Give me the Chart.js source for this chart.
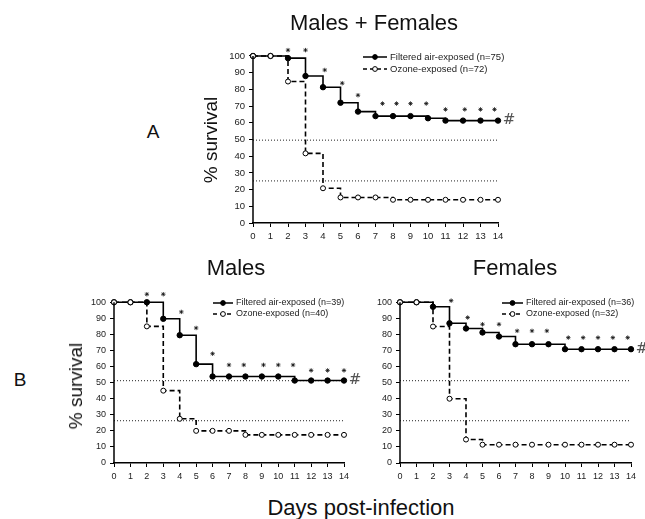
<!DOCTYPE html>
<html>
<head>
<meta charset="utf-8">
<script src="https://cdn.jsdelivr.net/npm/chart.js@4.4.1/dist/chart.umd.min.js"></script>
<style>
  body { margin: 0; background: #fff; font-family: "Liberation Sans", Arial, sans-serif; }
  #fig { position: relative; width: 645px; height: 519px; overflow: hidden; background: #fff; }
  #fig canvas { position: absolute; }
  .lbl { position: absolute; transform: translate(-50%, -50%); white-space: nowrap; color: #111; }
  .rot { transform: translate(-50%, -50%) rotate(-90deg); }
</style>
</head>
<body>
<div id="fig">
  <canvas id="chartAll" width="330" height="215" style="left:200px;top:30px"></canvas>
  <canvas id="chartMales" width="320" height="215" style="left:60px;top:280px"></canvas>
  <canvas id="chartFemales" width="295" height="215" style="left:350px;top:280px"></canvas>

  <div class="lbl" style="left:374px;top:23px;font-size:22px">Males + Females</div>
  <div class="lbl" style="left:153px;top:132px;font-size:19px">A</div>
  <div class="lbl rot" style="left:211px;top:140px;font-size:19px">% survival</div>

  <div class="lbl" style="left:236px;top:268px;font-size:22px">Males</div>
  <div class="lbl" style="left:515px;top:268px;font-size:22px">Females</div>
  <div class="lbl" style="left:20px;top:380px;font-size:19px">B</div>
  <div class="lbl rot" style="left:76px;top:386px;font-size:19px">% survival</div>
  <div class="lbl" style="left:361px;top:508px;font-size:22px">Days post-infection</div>
</div>

<script>
/* ---------- DATA ---------- */
const days = [0, 1, 2, 3, 4, 5, 6, 7, 8, 9, 10, 11, 12, 13, 14];

// Males + Females
const allFiltered = [100, 100, 98.7, 88, 81.3, 72, 66.7, 64, 64, 64, 62.7, 61.3, 61.3, 61.3, 61.3];
const allOzone = [100, 100, 84.7, 41.7, 20.8, 15.3, 15.3, 15.3, 13.9, 13.9, 13.9, 13.9, 13.9, 13.9, 13.9];
const allStarDays = [2, 3, 4.1, 5.1, 6, 7.4, 8.2, 9, 9.9, 11, 12.1, 13, 13.8];
const allStarY = [103.5, 103.5, 91.6, 83.7, 76.5, 71.5, 71.5, 71.5, 71.5, 68, 68, 68, 68];
const allRefLines = [49.6, 25.2];
const allLegend = ["Filtered air-exposed (n=75)", "Ozone-exposed (n=72)"];

// Males
const maleFiltered = [100, 100, 100, 89.7, 79.5, 61.5, 53.8, 53.8, 53.8, 53.8, 53.8, 51.3, 51.3, 51.3, 51.3];
const maleOzone = [100, 100, 85, 45, 27.5, 20, 20, 20, 17.5, 17.5, 17.5, 17.5, 17.5, 17.5, 17.5];
const maleStarDays = [2, 3, 4.1, 5, 6, 7, 7.9, 9.1, 10, 10.9, 12, 13, 14];
const maleStarY = [105, 105, 94, 84, 68, 61, 61, 61, 61, 61, 57.6, 57.6, 57.6];
const maleRefLines = [51.2, 26.3];
const maleLegend = ["Filtered air-exposed (n=39)", "Ozone-exposed (n=40)"];

// Females
const femaleFiltered = [100, 100, 97.2, 86.9, 83.7, 81.2, 78.7, 73.9, 73.9, 73.9, 70.8, 70.8, 70.8, 70.8, 70.8];
const femaleOzone = [100, 100, 84.9, 40, 14.6, 11.4, 11.4, 11.4, 11.4, 11.4, 11.4, 11.4, 11.4, 11.4, 11.4];
const femaleStarDays = [3.1, 4.1, 5, 6, 7.1, 8, 8.9, 10.2, 11.1, 12, 12.9, 13.8];
const femaleStarY = [101, 90.5, 86.3, 86.3, 82.2, 82.2, 82.2, 78, 78, 78, 78, 78];
const femaleRefLines = [51.2, 26.3];
const femaleLegend = ["Filtered air-exposed (n=36)", "Ozone-exposed (n=32)"];

const FONT = "'Liberation Sans', Arial, sans-serif";

function pairs(xs, ys) {
  return xs.map((x, i) => ({ x, y: ys[i] }));
}

/* ---------- EXTRAS: y axis line, legend, # ---------- */
const extras = {
  id: "extras",
  afterDraw(chart, args, o) {
    const { ctx } = chart;
    const x = chart.scales.x;
    const y = chart.scales.y;
    ctx.save();

    // y axis line, only up to 100
    ctx.strokeStyle = "#000";
    ctx.lineWidth = 1.5;
    ctx.beginPath();
    ctx.moveTo(x.getPixelForValue(0), y.getPixelForValue(0) + 0.75);
    ctx.lineTo(x.getPixelForValue(0), y.getPixelForValue(100));
    ctx.stroke();

    // legend
    o.items.forEach((it, i) => {
      const ly = o.y + i * o.gap;
      ctx.strokeStyle = "#000";
      ctx.lineWidth = 1.5;
      ctx.setLineDash(it.dash);
      ctx.beginPath();
      ctx.moveTo(o.x, ly);
      ctx.lineTo(o.x + o.len, ly);
      ctx.stroke();
      ctx.setLineDash([]);
      ctx.beginPath();
      ctx.arc(o.x + o.len / 2, ly, 2.4, 0, Math.PI * 2);
      ctx.fillStyle = it.fill;
      ctx.fill();
      ctx.lineWidth = 1;
      ctx.stroke();
      ctx.fillStyle = "#222";
      ctx.font = o.fontSize + "px " + FONT;
      ctx.textBaseline = "middle";
      ctx.textAlign = "left";
      ctx.fillText(it.text, o.x + o.len + 3, ly);
    });

    // significance mark after the last filtered point
    ctx.fillStyle = "#555";
    ctx.font = "15px 'DejaVu Serif', serif";
    ctx.textAlign = "center";
    ctx.textBaseline = "middle";
    ctx.fillText("#", x.getPixelForValue(14) + 11, y.getPixelForValue(o.hashValue));

    ctx.restore();
  }
};

/* ---------- PANEL ---------- */
function makePanel(canvasId, p) {
  const refSets = p.refLines.map(v => ({
    data: [{ x: 0, y: v }, { x: 14, y: v }],
    borderColor: "#222",
    borderWidth: 1,
    borderDash: [1, 2],
    pointRadius: 0,
    clip: false,
    order: 5
  }));

  return new Chart(document.getElementById(canvasId), {
    type: "line",
    data: {
      datasets: [
        {
          label: p.legend[1],
          data: pairs(days, p.ozone),
          stepped: true,
          borderColor: "#000",
          borderWidth: 1.6,
          borderDash: [5, 3],
          pointRadius: 2.5,
          pointBackgroundColor: "#fff",
          pointBorderColor: "#000",
          pointBorderWidth: 1,
          clip: false,
          order: 1
        },
        {
          label: p.legend[0],
          data: pairs(days, p.filtered),
          stepped: true,
          borderColor: "#000",
          borderWidth: 1.6,
          pointRadius: 2.7,
          pointBackgroundColor: "#000",
          pointBorderColor: "#000",
          pointBorderWidth: 1,
          clip: false,
          order: 2
        },
        {
          data: pairs(p.starDays, p.starY),
          showLine: false,
          pointStyle: "star",
          pointRadius: 2.2,
          pointBorderColor: "#111",
          pointBorderWidth: 0.8,
          clip: false,
          order: 0
        },
        ...refSets
      ]
    },
    options: {
      responsive: false,
      animation: false,
      devicePixelRatio: 1,
      layout: { padding: p.padding },
      plugins: {
        legend: { display: false },
        tooltip: { enabled: false },
        extras: {
          items: [
            { text: p.legend[0], dash: [], fill: "#000" },
            { text: p.legend[1], dash: [4, 3], fill: "#fff" }
          ],
          x: p.legendX,
          y: p.legendY,
          gap: p.legendGap,
          len: p.legendLen,
          fontSize: p.fontSize,
          hashValue: p.filtered[p.filtered.length - 1]
        }
      },
      scales: {
        x: {
          type: "linear",
          min: 0,
          max: 14,
          afterFit: s => { s.height = p.xHeight; },
          border: { display: true, color: "#000", width: 1.5 },
          grid: { drawOnChartArea: false, drawTicks: true, tickLength: 4, color: "#000" },
          ticks: {
            stepSize: 1,
            autoSkip: false,
            maxRotation: 0,
            padding: 4,
            color: "#222",
            font: { family: FONT, size: p.fontSize }
          }
        },
        y: {
          min: 0,
          max: 108,
          afterFit: s => { s.width = p.yWidth; },
          afterBuildTicks: s => { s.ticks = s.ticks.filter(t => t.value <= 100); },
          border: { display: false },
          grid: { drawOnChartArea: false, drawTicks: true, tickLength: 4, color: "#000" },
          ticks: {
            stepSize: 10,
            includeBounds: false,
            padding: 4,
            color: "#222",
            font: { family: FONT, size: p.fontSize }
          }
        }
      }
    },
    plugins: [extras]
  });
}

/* ---------- INIT ---------- */
makePanel("chartAll", {
  filtered: allFiltered, ozone: allOzone,
  starDays: allStarDays, starY: allStarY,
  refLines: allRefLines, legend: allLegend,
  padding: { left: 0, right: 32, top: 12.6, bottom: 0 },
  yWidth: 53, xHeight: 22,
  legendX: 163, legendY: 27, legendGap: 12, legendLen: 24,
  fontSize: 9.5
});

makePanel("chartMales", {
  filtered: maleFiltered, ozone: maleOzone,
  starDays: maleStarDays, starY: maleStarY,
  refLines: maleRefLines, legend: maleLegend,
  padding: { left: 0, right: 36, top: 9.1, bottom: 0 },
  yWidth: 54, xHeight: 32,
  legendX: 153, legendY: 23, legendGap: 11, legendLen: 20,
  fontSize: 9
});

makePanel("chartFemales", {
  filtered: femaleFiltered, ozone: femaleOzone,
  starDays: femaleStarDays, starY: femaleStarY,
  refLines: femaleRefLines, legend: femaleLegend,
  padding: { left: 0, right: 14, top: 9.1, bottom: 0 },
  yWidth: 50, xHeight: 32,
  legendX: 152, legendY: 23, legendGap: 11, legendLen: 21,
  fontSize: 9
});
</script>
</body>
</html>
